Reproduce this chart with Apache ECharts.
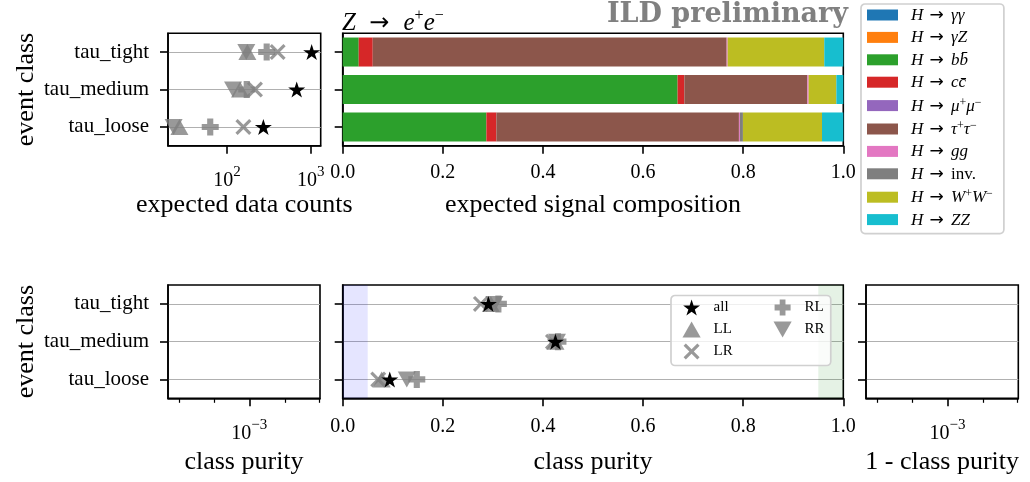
<!DOCTYPE html>
<html>
<head>
<meta charset="utf-8">
<script src="https://cdn.jsdelivr.net/npm/echarts@6/dist/echarts.min.js"></script>
<style>
  html, body { margin: 0; background: #fff; }
  #chart { width: 1030px; height: 482px; }
</style>
</head>
<body>
<div id="chart"></div>
<script>
  // event classes, bottom to top
  const classes = ['tau_loose', 'tau_medium', 'tau_tight']

  // expected data counts per class (loose, medium, tight)
  const countsAll = [272, 681, 1028]
  const countsLL = [27, 143, 175]
  const countsLR = [157, 216, 403]
  const countsRL = [63, 172, 298]
  const countsRR = [23, 118, 170]

  // class purity per class (loose, medium, tight)
  const purityAll = [0.094, 0.425, 0.291]
  const purityLL = [0.078, 0.425, 0.296]
  const purityLR = [0.071, 0.420, 0.276]
  const purityRL = [0.148, 0.430, 0.311]
  const purityRR = [0.128, 0.428, 0.303]

  // expected signal composition (loose, medium, tight)
  const channels = ['H → γγ', 'H → γZ', 'H → bb\u0304', 'H → cc\u0304', 'H → μ⁺μ⁻',
    'H → τ⁺τ⁻', 'H → gg', 'H → inv.', 'H → W⁺W⁻', 'H → ZZ']
  const compGG = [0, 0, 0]
  const compGZ = [0, 0, 0]
  const compBB = [0.287, 0.669, 0.032]
  const compCC = [0.020, 0.0135, 0.028]
  const compMM = [0, 0, 0]
  const compTT = [0.4845, 0.2456, 0.707]
  const compGluon = [0.002, 0.0027, 0.002]
  const compInv = [0.006, 0, 0]
  const compWW = [0.158, 0.0553, 0.193]
  const compZZ = [0.0425, 0.014, 0.038]
  const compositions = [compGG, compGZ, compBB, compCC, compMM, compTT, compGluon, compInv, compWW, compZZ]
  const colors = ['#1f77b4', '#ff7f0e', '#2ca02c', '#d62728', '#9467bd',
    '#8c564b', '#e377c2', '#7f7f7f', '#bcbd22', '#17becf']

  // x ticks of the empty log panels (fraction of the axis)
  const logMajor = [0.535]
  const logMinor = [0.072, 0.305, 0.77, 0.995]
  const purityLow = 0.05
  const purityHigh = 0.95

  const FONT = 'Liberation Serif'
  const STAR = 'path://M50,0 L61.2,34.5 L97.6,34.5 L68.2,55.9 L79.4,90.5 L50,69.1 L20.6,90.5 L31.8,55.9 L2.4,34.5 L38.8,34.5 Z'
  const CROSS = 'path://M0,14 L14,0 L50,36 L86,0 L100,14 L64,50 L100,86 L86,100 L50,64 L14,100 L0,86 L36,50 Z'
  const PLUS = 'path://M32,0 L68,0 L68,32 L100,32 L100,68 L68,68 L68,100 L32,100 L32,68 L0,68 L0,32 L32,32 Z'
  const TRI_UP = 'path://M50,0 L100,88 L0,88 Z'
  const TRI_DOWN = 'path://M0,0 L100,0 L50,88 Z'

  const markers = {
    all: { symbol: STAR, symbolSize: [17, 16], color: '#000', opacity: 1, z: 5 },
    LL: { symbol: TRI_UP, symbolSize: [18, 16], color: '#808080', opacity: 0.8, z: 3 },
    LR: { symbol: CROSS, symbolSize: [16, 16], color: '#808080', opacity: 0.8, z: 3 },
    RL: { symbol: PLUS, symbolSize: [17, 17], color: '#808080', opacity: 0.8, z: 3 },
    RR: { symbol: TRI_DOWN, symbolSize: [18, 16], color: '#808080', opacity: 0.8, z: 3 }
  }

  function mathText(str) {
    return str.split(/([⁺⁻→]|inv\.)/).filter(Boolean).map(p => {
      if (p === '⁺') return '{s|+}'
      if (p === '⁻') return '{s|−}'
      if (p === '→') return '{a|→}'
      if (p === 'inv.') return '{n|inv.}'
      return '{i|' + p + '}'
    }).join('')
  }

  const powRich = {
    b: { fontFamily: FONT, fontSize: 20, lineHeight: 26, verticalAlign: 'bottom' },
    s: { fontFamily: FONT, fontSize: 15, lineHeight: 12, verticalAlign: 'top' }
  }

  const axisLine = { show: true, lineStyle: { color: '#000', width: 1.6 } }
  const tick = { show: true, length: 8, lineStyle: { color: '#000', width: 1.6 } }
  const gridLine = { show: true, alignWithLabel: true, lineStyle: { color: '#b0b0b0', width: 1 } }
  const nameStyle = { fontFamily: FONT, fontSize: 26, color: '#000' }

  function catAxis(gridIndex, withLabels, withGrid) {
    return {
      type: 'category', gridIndex: gridIndex, data: classes,
      axisLine: axisLine,
      axisTick: Object.assign({ alignWithLabel: true }, tick),
      axisLabel: { show: withLabels, fontFamily: FONT, fontSize: 21, color: '#000', margin: 19 },
      splitLine: withGrid ? gridLine : { show: false },
      name: withLabels ? 'event class' : '',
      nameLocation: 'middle', nameGap: 129, nameTextStyle: nameStyle
    }
  }

  function linearAxis(gridIndex, name, margin) {
    return {
      type: 'value', gridIndex: gridIndex, min: 0, max: 1, interval: 0.2,
      axisLine: axisLine, axisTick: tick, splitLine: { show: false },
      axisLabel: { fontFamily: FONT, fontSize: 20, color: '#000', margin: margin,
        formatter: v => v.toFixed(1) },
      name: name, nameLocation: 'middle', nameGap: name === 'class purity' ? 51 : 46,
      nameTextStyle: nameStyle
    }
  }

  function emptyLogAxes(gridIndex, name) {
    return [{
      type: 'value', gridIndex: gridIndex, min: 0, max: 1, position: 'bottom',
      axisLine: axisLine,
      axisTick: Object.assign({ customValues: logMajor }, tick),
      axisLabel: { customValues: logMajor, margin: 19, formatter: () => '{b|10}{s|−3}', rich: powRich },
      splitLine: { show: false },
      name: name, nameLocation: 'middle', nameGap: 51, nameTextStyle: nameStyle
    }, {
      type: 'value', gridIndex: gridIndex, min: 0, max: 1, position: 'bottom', offset: 0,
      axisLine: { show: false },
      axisTick: { show: true, customValues: logMinor, length: 4.5, lineStyle: { color: '#000', width: 1.2 } },
      axisLabel: { show: false }, splitLine: { show: false }
    }]
  }

  const gridBox = { show: true, borderColor: '#000', borderWidth: 1.6, backgroundColor: 'transparent' }

  const series = []
  const pol = { all: [countsAll, purityAll], LL: [countsLL, purityLL], LR: [countsLR, purityLR],
    RL: [countsRL, purityRL], RR: [countsRR, purityRR] }
  Object.keys(pol).forEach(key => {
    const m = markers[key]
    const base = {
      type: 'scatter', name: key, symbol: m.symbol, symbolSize: m.symbolSize,
      z: m.z, itemStyle: { color: m.color, opacity: m.opacity }, emphasis: { disabled: true }
    }
    series.push(Object.assign({}, base, { xAxisIndex: 0, yAxisIndex: 0,
      data: pol[key][0].map((v, i) => [v, classes[i]]) }))
    series.push(Object.assign({}, base, { xAxisIndex: 4, yAxisIndex: 3,
      data: pol[key][1].map((v, i) => [v, classes[i]]) }))
  })
  // shaded purity regions
  series[3].markArea = {
    silent: true,
    data: [
      [{ xAxis: 0, itemStyle: { color: 'rgba(0,0,255,0.1)' } }, { xAxis: purityLow }],
      [{ xAxis: purityHigh, itemStyle: { color: 'rgba(0,128,0,0.1)' } }, { xAxis: 1 }]
    ]
  }
  channels.forEach((name, k) => {
    series.push({
      type: 'bar', name: name, stack: 'comp', xAxisIndex: 1, yAxisIndex: 1,
      barWidth: 29, itemStyle: { color: colors[k] }, data: compositions[k],
      emphasis: { disabled: true }
    })
  })

  const markerLegend = {
    orient: 'vertical', top: 295.5, itemWidth: 34, itemHeight: 16, itemGap: 6, selectedMode: false,
    textStyle: { fontFamily: FONT, fontSize: 15, color: '#000' }
  }

  const chart = echarts.init(document.getElementById('chart'))
  chart.setOption({
    animation: false,
    textStyle: { fontFamily: FONT, color: '#000' },
    title: [{
      text: mathText('Z → e⁺e⁻'), left: 342, top: 8, padding: 0,
      textStyle: {
        fontFamily: FONT, fontSize: 24, fontWeight: 'normal', lineHeight: 28,
        rich: {
          i: { fontFamily: FONT, fontSize: 25, fontStyle: 'italic', lineHeight: 28, verticalAlign: 'bottom' },
          a: { fontFamily: 'DejaVu Sans', fontSize: 24, lineHeight: 28, verticalAlign: 'bottom', padding: [0, 8, 0, 7] },
          s: { fontFamily: FONT, fontSize: 16, lineHeight: 14, verticalAlign: 'top' }
        }
      }
    }, {
      text: 'ILD preliminary', right: 182, top: 1, padding: 0,
      textStyle: { fontFamily: 'DejaVu Serif', fontWeight: 'bold', fontSize: 27, color: '#808080' }
    }],
    grid: [
      Object.assign({ left: 168, top: 33.3, width: 152.7, height: 112.4 }, gridBox),
      Object.assign({ left: 342.7, top: 33.3, width: 500.6, height: 112.4 }, gridBox),
      Object.assign({ left: 168, top: 285, width: 152, height: 113.3 }, gridBox),
      Object.assign({ left: 342.7, top: 285, width: 500.6, height: 113.3 }, gridBox),
      Object.assign({ left: 866, top: 285, width: 152.3, height: 113.3 }, gridBox)
    ],
    xAxis: [
      {
        type: 'log', gridIndex: 0, min: 19.7, max: 1318,
        axisLine: axisLine,
        axisTick: Object.assign({ customValues: [100, 1000] }, tick),
        axisLabel: { customValues: [100, 1000], margin: 19, rich: powRich,
          formatter: v => '{b|10}{s|' + Math.round(Math.log10(v)) + '}' },
        splitLine: { show: false },
        name: 'expected data counts', nameLocation: 'middle', nameGap: 46, nameTextStyle: nameStyle
      },
      linearAxis(1, 'expected signal composition', 17),
      ...emptyLogAxes(2, 'class purity'),
      linearAxis(3, 'class purity', 18),
      ...emptyLogAxes(4, '1 - class purity')
    ],
    yAxis: [
      catAxis(0, true, true),
      catAxis(1, false, false),
      catAxis(2, true, true),
      catAxis(3, false, true),
      catAxis(4, false, true)
    ],
    legend: [{
      data: channels, orient: 'vertical', left: 861, top: 4, icon: 'rect',
      itemWidth: 31, itemHeight: 11, itemGap: 5.4, selectedMode: false,
      padding: [3, 11, 5, 6], borderColor: '#d0d0d0', borderWidth: 1.7, borderRadius: 4,
      backgroundColor: '#fff',
      formatter: name => mathText(name),
      textStyle: {
        padding: [0, 0, 0, 8],
        rich: {
          i: { fontFamily: FONT, fontSize: 17, fontStyle: 'italic', lineHeight: 18, verticalAlign: 'bottom', color: '#000' },
          a: { fontFamily: 'DejaVu Sans', fontSize: 17, lineHeight: 18, verticalAlign: 'bottom', color: '#000', padding: [0, 3, 0, 2] },
          n: { fontFamily: FONT, fontSize: 17, lineHeight: 18, verticalAlign: 'bottom', color: '#000' },
          s: { fontFamily: FONT, fontSize: 12, lineHeight: 10, verticalAlign: 'top', color: '#000' }
        }
      }
    }, Object.assign({}, markerLegend, {
      data: ['all', 'LL', 'LR'], left: 671,
      padding: [4, 98, 6, 11.5], borderColor: '#d0d0d0', borderWidth: 1.7, borderRadius: 4,
      backgroundColor: 'rgba(255,255,255,0.8)'
    }), Object.assign({}, markerLegend, {
      data: ['RL', 'RR'], left: 773.5, padding: [4, 0, 0, 0], z: 5
    })],
    series: series
  })
</script>
</body>
</html>
